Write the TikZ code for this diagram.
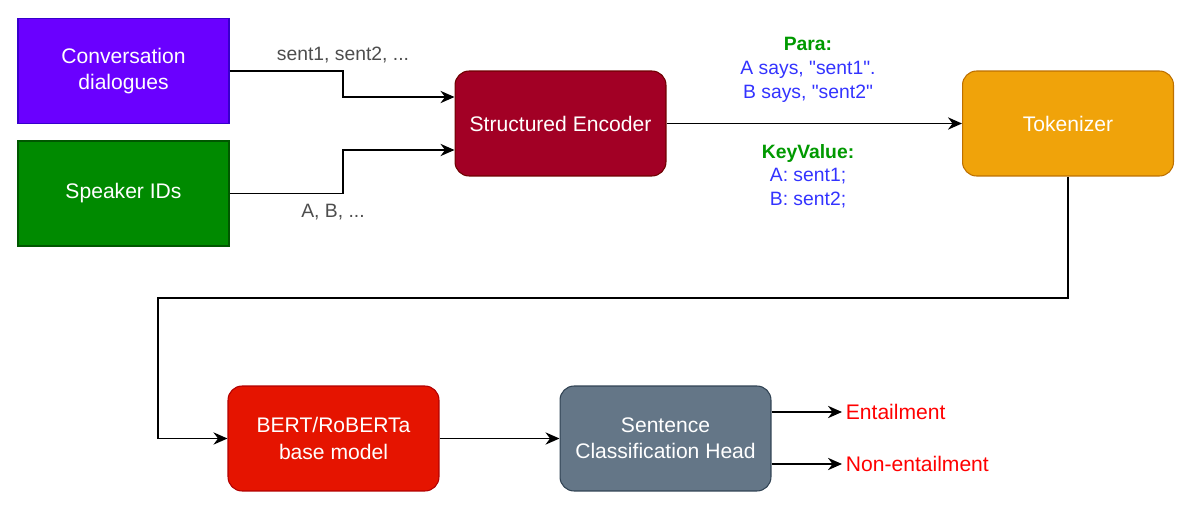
\documentclass[tikz,border=0pt]{standalone}
\usepackage{fontspec}
\setmainfont{Liberation Sans}[Ligatures=TeXOff]
\usepackage{xcolor}
\usepackage{tikz}
\usetikzlibrary{
  arrows.meta,
  positioning
}
\definecolor{convfill}{HTML}{6A00FF}
\definecolor{convdraw}{HTML}{3700CC}
\definecolor{spkfill}{HTML}{008A00}
\definecolor{spkdraw}{HTML}{005700}
\definecolor{encfill}{HTML}{A20025}
\definecolor{encdraw}{HTML}{6F0000}
\definecolor{tokfill}{HTML}{F0A30A}
\definecolor{tokdraw}{HTML}{BD7000}
\definecolor{bertfill}{HTML}{E51400}
\definecolor{bertdraw}{HTML}{B20000}
\definecolor{headfill}{HTML}{647687}
\definecolor{headdraw}{HTML}{314354}
\definecolor{lblgray}{HTML}{4D4D4D}
\definecolor{keygreen}{HTML}{009900}
\definecolor{valblue}{HTML}{3333FF}

\begin{document}
\begin{tikzpicture}[
  x=0.02cm, y=-0.02cm,
  inbox/.style={minimum width=4.22cm, minimum height=2.1cm, align=center,
                text=white, font=\fontsize{12}{15}\selectfont, line width=0.6pt},
  rbox/.style={inbox, rounded corners=8pt},
  link/.style={-{Stealth[length=8pt, width=7pt]}, line width=0.9pt},
  lbl/.style={font=\fontsize{11}{13}\selectfont, text=lblgray},
  fmt/.style={font=\fontsize{11}{13.5}\selectfont, align=center, text=valblue},
  outlbl/.style={font=\fontsize{12}{14}\selectfont, text=red, anchor=west, inner sep=2pt}
]
\useasboundingbox (0,0) rectangle (1192,510);

% inputs
\node[inbox, fill=convfill, draw=convdraw] (conv) at (123.5,71) {Conversation\\ dialogues};
\node[inbox, fill=spkfill, draw=spkdraw] (spk) at (123.5,193.5) {Speaker IDs};

% encoder and tokenizer
\node[rbox, fill=encfill, draw=encdraw] (enc) at (560.5,123.5) {Structured Encoder};
\node[rbox, fill=tokfill, draw=tokdraw] (tok) at (1068,123.5) {Tokenizer};

% model
\node[rbox, fill=bertfill, draw=bertdraw] (bert) at (333.5,438.5) {BERT/RoBERTa\\ base model};
\node[rbox, fill=headfill, draw=headdraw] (head) at (665.5,438.5) {Sentence\\ Classification Head};

% outputs
\node[outlbl] (ent) at (842,412) {Entailment};
\node[outlbl] (nent) at (842,464) {Non-entailment};

% connectors
\draw[link] (conv.east) -- (343,71) |- ([yshift=0.53cm]enc.west);
\draw[link] (spk.east) -- (343,193.5) |- ([yshift=-0.53cm]enc.west);
\draw[link] (enc) -- (tok);
\draw[link] (tok.south) |- (158,298) |- (bert.west);
\draw[link] (bert) -- (head);
\draw[link] (head.east |- ent.west) -- (ent.west);
\draw[link] (head.east |- nent.west) -- (nent.west);

% labels
\node[lbl] (convlbl) at (343,55) {sent1, sent2, ...};
\node[lbl] (spklbl) at (333,212) {A, B, ...};
\node[fmt] (para) at (808,70) {{\color{keygreen}\bfseries Para:}\\ A says, "sent1".\\ B says, "sent2"};
\node[fmt] (kv) at (808,176) {{\color{keygreen}\bfseries KeyValue:}\\ A: sent1;\\ B: sent2;};
\end{tikzpicture}
\end{document}
